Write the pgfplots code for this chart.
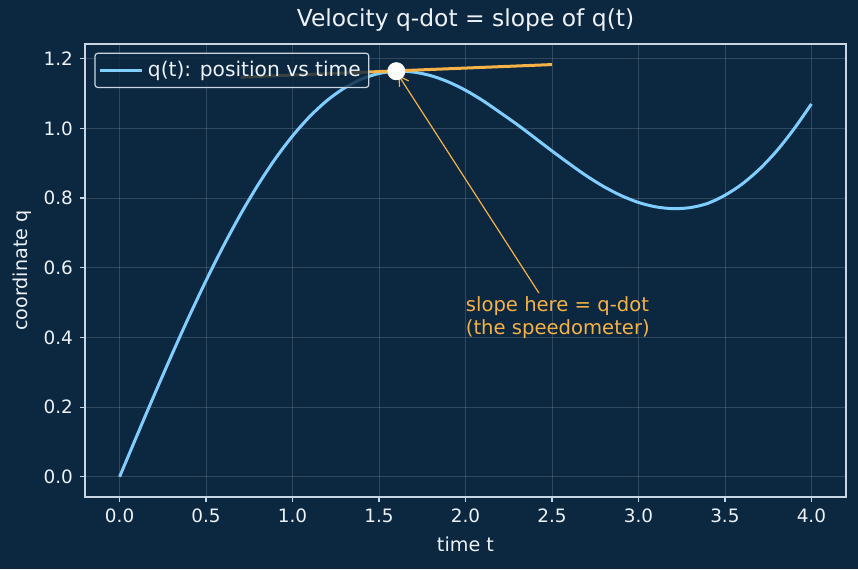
\documentclass[border=0pt]{standalone}
\usepackage{pgfplots}
\pgfplotsset{compat=1.18}
\usetikzlibrary{arrows.meta}
\usepackage{fontspec}
\setmainfont{DejaVu Sans}
\definecolor{bg}{RGB}{12,39,64}
\definecolor{curve}{RGB}{128,206,255}
\definecolor{tang}{RGB}{245,178,70}
\definecolor{spine}{RGB}{200,214,228}
\definecolor{txt}{RGB}{236,242,248}
\begin{document}
\begin{tikzpicture}
\path[use as bounding box, fill=bg] (-42.5pt,-36pt) rectangle (386.5pt,248.5pt);
\begin{axis}[
  scale only axis,
  width=380.5pt, height=226.5pt,
  xmin=-0.2, xmax=4.2, ymin=-0.058, ymax=1.242,
  xtick={0,0.5,...,4}, ytick={0,0.2,...,1.2},
  xticklabel style={/pgf/number format/.cd,fixed,fixed zerofill,precision=1},
  yticklabel style={/pgf/number format/.cd,fixed,fixed zerofill,precision=1},
  /pgf/number format/assume math mode=true,
  tick label style={font=\fontsize{9.2}{11}\selectfont, color=txt},
  label style={font=\fontsize{9.6}{11}\selectfont, color=txt},
  title style={font=\fontsize{11.7}{13}\selectfont, color=txt, yshift=-3pt},
  title={Velocity q-dot = slope of q(t)},
  xlabel={time t}, ylabel={coordinate q},
  xlabel style={yshift=0pt},
  ylabel style={yshift=-1pt},
  axis line style={spine, line width=0.7pt},
  tick style={spine, line width=0.6pt},
  tick align=outside, major tick length=2.5pt,
  xtick pos=bottom, ytick pos=left,
  grid=major,
  major grid style={white, opacity=0.15, line width=0.4pt},
  legend style={at={(0,1)}, anchor=north west, xshift=4.7pt, yshift=-4.3pt,
    fill=bg, fill opacity=0.8, text opacity=1, draw=spine, draw opacity=1,
    rounded corners=1.5pt, line width=0.6pt,
    font=\fontsize{10.1}{11}\selectfont, text=txt, inner sep=2pt},
  legend cell align=left,
  legend image code/.code={\draw[#1, line width=1.5pt] (0pt,0pt) -- (21pt,0pt);},
]
\addplot[curve, line width=1.5pt, smooth] coordinates {
(0.0,0.0000) (0.1,0.1178) (0.2,0.2343) (0.3,0.3481) (0.4,0.4581) (0.5,0.5631)
(0.6,0.6620) (0.7,0.7537) (0.8,0.8374) (0.9,0.9125) (1.0,0.9781) (1.1,1.0341)
(1.2,1.0800) (1.3,1.1157) (1.4,1.1415) (1.5,1.1574) (1.6,1.1639) (1.7,1.1614)
(1.8,1.1511) (1.9,1.1334) (2.0,1.1093) (2.1,1.0796) (2.2,1.0454) (2.3,1.0105)
(2.4,0.9730) (2.5,0.9351) (2.6,0.8985) (2.7,0.8635) (2.8,0.8327) (2.9,0.8070)
(3.0,0.7873) (3.1,0.7747) (3.2,0.7695) (3.3,0.7725) (3.4,0.7845) (3.5,0.8079)
(3.6,0.8404) (3.7,0.8830) (3.8,0.9356) (3.9,0.9986) (4.0,1.0699)};
\addlegendentry{q(t): position vs time}
\addplot[tang, line width=1.5pt, forget plot] coordinates {(0.7,1.1468) (2.5,1.1830)};
\addplot[only marks, mark=*, mark size=4.3pt, mark options={fill=white, draw=white}, forget plot] coordinates {(1.6,1.1639)};
\draw[tang, line width=0.6pt, -{Straight Barb[length=4.5pt,width=5.5pt]}] (axis cs:2.425,0.527) -- (axis cs:1.613,1.152);
\node[anchor=south west, align=left, text=tang, font=\fontsize{9.8}{11.5}\selectfont, inner sep=0pt] at (axis cs:2.0,0.395) {slope here = q-dot\\(the speedometer)};
\end{axis}
\end{tikzpicture}
\end{document}
